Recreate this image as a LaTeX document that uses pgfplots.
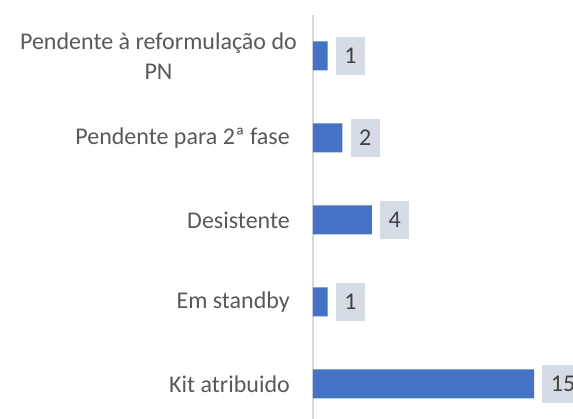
\documentclass[border=0pt]{standalone}
\usepackage{fontspec}
\setmainfont{Carlito}
\usepackage{pgfplots}
\pgfplotsset{compat=1.18}
\definecolor{barblue}{HTML}{4472C4}
\definecolor{lblbox}{HTML}{D6DCE5}
\definecolor{txtgray}{HTML}{595959}
\definecolor{valgray}{HTML}{404040}
\definecolor{axgray}{HTML}{D9D9D9}
\begin{document}
\begin{tikzpicture}
\path[use as bounding box] (-313bp,6bp) rectangle (260bp,425bp);
\begin{axis}[
  at={(0,0)}, anchor=south west,
  scale only axis,
  width=250.75bp, height=410bp,
  xmin=0, xmax=17, ymin=-0.5, ymax=4.5,
  xbar, bar width=29bp,
  clip=false,
  hide x axis,
  axis y line*=left,
  y axis line style={-, axgray, line width=1.2pt},
  ytick={0,1,2,3,4},
  yticklabels={Kit atribuido, Em standby, Desistente, Pendente para 2ª fase, {Pendente à reformulação do\hspace*{-7bp}\\PN\hspace*{-7bp}}},
  major tick length=0pt,
  yticklabel style={align=center, anchor=east, inner sep=0pt, xshift=-23bp, text=txtgray, font=\fontsize{24bp}{30bp}\selectfont},
  nodes near coords,
  nodes near coords style={anchor=west, xshift=8bp, fill=lblbox, text=valgray, inner xsep=8.5bp, inner ysep=0pt, minimum height=38bp, font=\fontsize{24bp}{29bp}\selectfont, /pgf/number format/assume math mode=true},
]
\addplot[fill=barblue, draw=none] coordinates {(15,0) (1,1) (4,2) (2,3) (1,4)};
\end{axis}
\end{tikzpicture}
\end{document}
